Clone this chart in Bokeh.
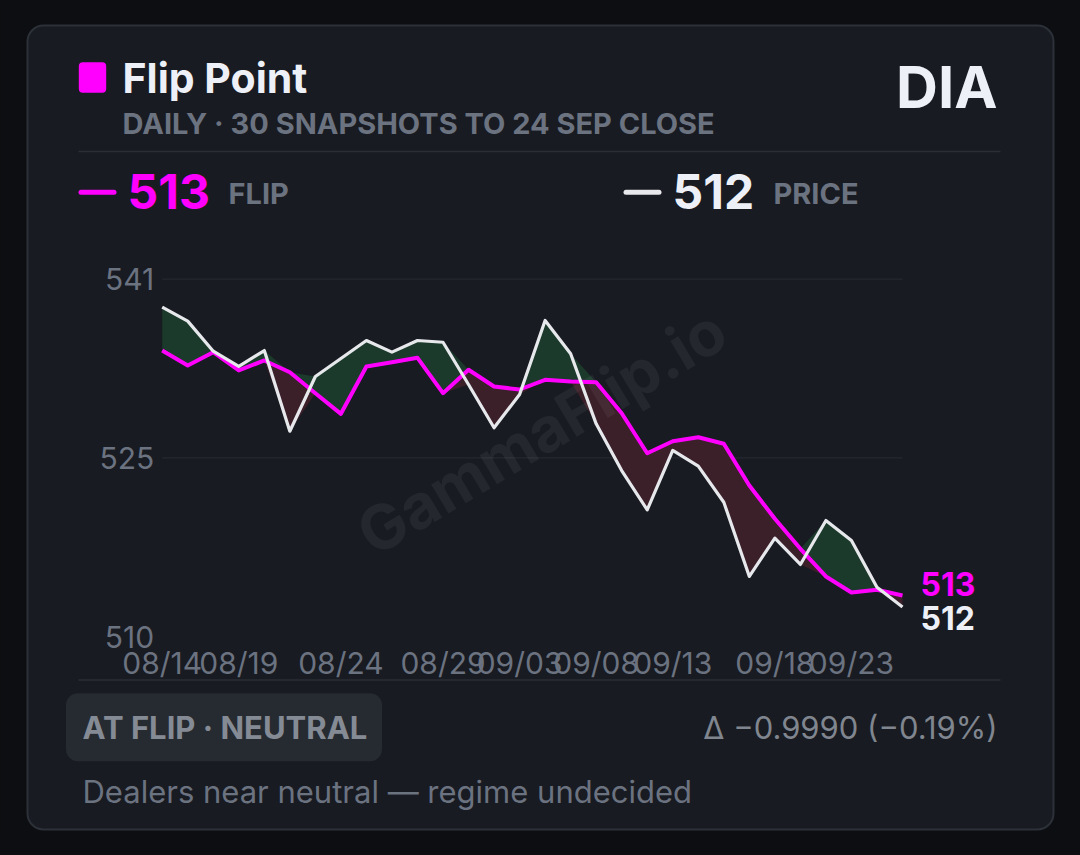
import numpy as np
from bokeh.plotting import figure
from bokeh.models import Range1d, LinearAxis, FixedTicker, ColumnDataSource
from bokeh.core.properties import value
from bokeh.embed import file_html
from bokeh.resources import INLINE

# ---------------- data ----------------
flip = [534.61, 533.31, 534.47, 532.88, 533.75, 532.73, 530.91, 529.12, 533.23, 533.60,
        533.98, 530.91, 532.94, 531.49, 531.23, 532.07, 531.92, 531.86, 529.17, 525.70,
        526.74, 527.09, 526.52, 522.90, 520.01, 517.41, 515.01, 513.62, 513.85, 513.36]
price = [538.37, 537.16, 534.55, 533.23, 534.61, 527.61, 532.36, 533.92, 535.48, 534.47,
         535.48, 535.33, 531.66, 527.91, 530.80, 537.22, 534.33, 528.25, 524.20, 520.79,
         525.94, 524.58, 521.45, 515.01, 518.33, 516.05, 519.86, 518.13, 514.08, 512.361]
x_tick_idx = [0, 3, 7, 11, 14, 17, 20, 24, 27]
x_tick_labels = ["08/14", "08/19", "08/24", "08/29", "09/03", "09/08", "09/13", "09/18", "09/23"]
y_tick_values = [509.8, 525.3, 540.8]
y_tick_labels = ["510", "525", "541"]

ticker_name = "DIA"
title_text = "Flip Point"
subtitle_text = "DAILY · 30 SNAPSHOTS TO 24 SEP CLOSE"
badge_text = "AT FLIP · NEUTRAL"
note_text = "Dealers near neutral — regime undecided"

# ---------------- styling / layout ----------------
W, H = 1064, 839
OX, OY = 0, 0                      # page offset of the canvas
PL, PR, PT, PB = 161.7, 902.0, 278.7, 636.0   # plot area in page px

BG = "#0c0e11"
CARD = "#181b21"
CARD_BORDER = "#2c3038"
DIV = "#2a2e35"
GRID = "#252930"
TXT = "#edf0f6"
GRAY = "#6b7280"
GRAY2 = "#80868f"
MAGENTA = "#ff00ff"
WHITE_LINE = "#e6e8ec"
GREEN_FILL = "#1b3a2b"
RED_FILL = "#3b1f29"
FONT = value("Inter")

idx = np.arange(len(flip))
fl = np.array(flip)
pr = np.array(price)

sx = (PR - PL) / (idx[-1] - idx[0])
x_start = idx[0] - (PL - OX) / sx
x_end = idx[-1] + (OX + W - PR) / sx
ymin, ymax = y_tick_values[0], y_tick_values[-1]
sy = (PB - PT) / (ymax - ymin)
y_end = ymax + (PT - OY) / sy
y_start = ymin - (OY + H - PB) / sy

p = figure(width=W, height=H, x_range=Range1d(x_start, x_end), y_range=Range1d(y_start, y_end),
           output_backend="svg", toolbar_location=None,
           x_axis_location=None, y_axis_location=None, min_border=0,
           background_fill_color=BG, border_fill_color=BG, outline_line_color=None)
p.grid.visible = False
p.extra_x_ranges = {"px": Range1d(OX, OX + W)}
p.extra_y_ranges = {"px": Range1d(OY + H, OY)}
PX = dict(x_range_name="px", y_range_name="px")
MID = dict(text_baseline="middle")

# card
p.quad(left=27, right=1053, top=25, bottom=829, fill_color=CARD, line_color=CARD_BORDER,
       line_width=2, border_radius=16, **PX)

# header
p.quad(left=78.3, right=105.7, top=61.7, bottom=92.3, fill_color=MAGENTA, line_color=None,
       border_radius=4, **PX)
p.text(x=[122], y=[77.8], text=[title_text], text_font=FONT, text_font_style="bold",
       text_font_size="41px", text_color=TXT, **MID, **PX)
p.text(x=[997], y=[86], text=[ticker_name], text_font=FONT, text_font_style="bold",
       text_font_size="58px", text_color=TXT, text_align="right", **MID, **PX)
p.text(x=[122], y=[123.3], text=[subtitle_text], text_font=FONT, text_font_style="bold",
       text_font_size="29px", text_color=GRAY, **MID, **PX)
p.segment(x0=78, x1=1000, y0=151, y1=151, line_color=DIV, line_width=1.5, **PX)

# stats row
p.segment(x0=80.5, x1=113.5, y0=191.7, y1=191.7, line_color=MAGENTA, line_width=5,
          line_cap="round", **PX)
p.text(x=[127], y=[191.2], text=[f"{flip[-1]:.0f}"], text_font=FONT, text_font_style="bold",
       text_font_size="48px", text_color=MAGENTA, **MID, **PX)
p.text(x=[228], y=[193.3], text=["FLIP"], text_font=FONT, text_font_style="bold",
       text_font_size="29px", text_color=GRAY, **MID, **PX)
p.segment(x0=625.5, x1=658.5, y0=191.7, y1=191.7, line_color=WHITE_LINE, line_width=5,
          line_cap="round", **PX)
p.text(x=[672], y=[191.2], text=[f"{price[-1]:.0f}"], text_font=FONT, text_font_style="bold",
       text_font_size="48px", text_color=TXT, **MID, **PX)
p.text(x=[773], y=[193.3], text=["PRICE"], text_font=FONT, text_font_style="bold",
       text_font_size="29px", text_color=GRAY, **MID, **PX)

# gridlines
p.segment(x0=idx[0], x1=idx[-1], y0=y_tick_values[1:], y1=y_tick_values[1:],
          line_color=GRID, line_width=1.2)

# fills between flip and price
p.varea(x=idx, y1=fl, y2=np.maximum(pr, fl), fill_color=GREEN_FILL)
p.varea(x=idx, y1=fl, y2=np.minimum(pr, fl), fill_color=RED_FILL)

# watermark
p.text(x=[541], y=[431], text=["GammaFlip.io"], angle=0.54, text_font=FONT,
       text_font_style="bold", text_font_size="62px", text_color="#ffffff", text_alpha=0.055,
       text_align="center", **MID, **PX)

# lines
src = ColumnDataSource(dict(x=idx, flip=fl, price=pr))
p.line("x", "flip", source=src, line_color=MAGENTA, line_width=4, line_join="round")
p.line("x", "price", source=src, line_color=WHITE_LINE, line_width=3.2, line_join="round")

# end labels
p.text(x=[idx[-1]], y=[flip[-1]], text=[f"{flip[-1]:.0f}"], x_offset=18, y_offset=-11,
       text_font=FONT, text_font_style="bold", text_font_size="32px", text_color=MAGENTA, **MID)
p.text(x=[idx[-1]], y=[price[-1]], text=[f"{price[-1]:.0f}"], x_offset=18, y_offset=11,
       text_font=FONT, text_font_style="bold", text_font_size="32px", text_color=TXT, **MID)

# axes
yaxis = LinearAxis(fixed_location=float(idx[0]), ticker=FixedTicker(ticks=y_tick_values),
                   major_label_overrides={v: l for v, l in zip(y_tick_values, y_tick_labels)})
xaxis = LinearAxis(fixed_location=y_tick_values[0], ticker=FixedTicker(ticks=x_tick_idx),
                   major_label_overrides={v: l for v, l in zip(x_tick_idx, x_tick_labels)})
for ax in (yaxis, xaxis):
    ax.axis_line_color = None
    ax.major_tick_line_color = None
    ax.minor_tick_line_color = None
    ax.major_tick_out = 0
    ax.major_tick_in = 0
    ax.major_label_standoff = 8
    ax.major_label_text_font = "Inter"
    ax.major_label_text_font_size = "30px"
    ax.major_label_text_color = GRAY
p.add_layout(yaxis, "left")
p.add_layout(xaxis, "below")

# footer
p.segment(x0=78, x1=1000, y0=679.5, y1=679.5, line_color=DIV, line_width=1.5, **PX)
p.quad(left=65.5, right=381.5, top=692.7, bottom=760.7, fill_color="#262a31", line_color=None,
       border_radius=12, **PX)
p.text(x=[82], y=[727], text=[badge_text], text_font=FONT, text_font_style="bold",
       text_font_size="31px", text_color="#858b95", **MID, **PX)
d = price[-1] - flip[-1]
pct = d / flip[-1] * 100
delta_text = f"Δ {d:.4f} ({pct:.2f}%)".replace("-", "−")
p.text(x=[997], y=[727], text=[delta_text], text_font=FONT, text_font_size="31px",
       text_color=GRAY2, text_align="right", **MID, **PX)
p.text(x=[82], y=[790.8], text=[note_text], text_font=FONT, text_font_size="31px",
       text_color=GRAY, **MID, **PX)

STYLE = "<style>html,body{background:%s;}</style>" % BG
open("out.html", "w").write(file_html(p, INLINE).replace("</head>", STYLE + "</head>"))
